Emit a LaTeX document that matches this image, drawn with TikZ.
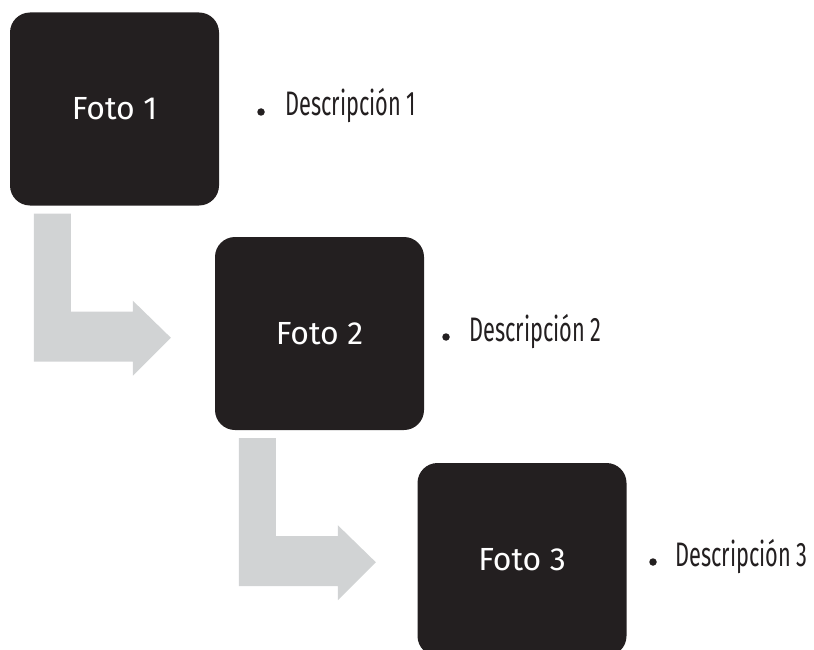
\documentclass[tikz,border=0pt]{standalone}
\usepackage{fontspec}
\setmainfont{Fira Sans}
\newfontfamily\condfont[FakeStretch=0.64]{Fira Sans}
\usetikzlibrary{calc}
\definecolor{boxblack}{HTML}{231F20}
\definecolor{arrowgray}{HTML}{D1D3D4}
\begin{document}
\begin{tikzpicture}[x=1pt,y=-1pt,
  photobox/.style={fill=boxblack, rounded corners=20pt, minimum width=209pt,
    minimum height=193pt, inner sep=0pt, text=white,
    font=\fontsize{32}{34}\selectfont},
  desc/.style={font=\condfont\fontsize{34}{36}\selectfont, text=boxblack,
    anchor=base west, inner sep=0pt},
  bulletdot/.style={circle, fill=boxblack, minimum size=7.5pt, inner sep=0pt},
  bentarrow/.style={fill=arrowgray}]
\useasboundingbox (0,0) rectangle (814,650);

% photo boxes
\node[photobox] (b1) at (114.5,109)   {Foto 1};
\node[photobox] (b2) at (319.5,333.5) {Foto 2};
\node[photobox] (b3) at (522,559.5)   {Foto 3};

% descriptions with bullets
\node[bulletdot] (d1) at (261,112) {};
\node[desc] (t1) at (285,116) {Descripción 1};
\node[bulletdot] (d2) at (446,337) {};
\node[desc] (t2) at (469,341) {Descripción 2};
\node[bulletdot] (d3) at (653,562) {};
\node[desc] (t3) at (675,566) {Descripción 3};

% bent arrows leading from one photo down to the next
\foreach \src in {b1,b2} {
  \coordinate (o) at (\src.south west);
  \fill[bentarrow]
    ($(o)+(24,8)$) -- ($(o)+(61,8)$) -- ($(o)+(61,106)$) -- ($(o)+(123,106)$)
    -- ($(o)+(123,95)$) -- ($(o)+(161,132)$) -- ($(o)+(123,170)$)
    -- ($(o)+(123,156)$) -- ($(o)+(24,156)$) -- cycle;
}
\end{tikzpicture}
\end{document}
